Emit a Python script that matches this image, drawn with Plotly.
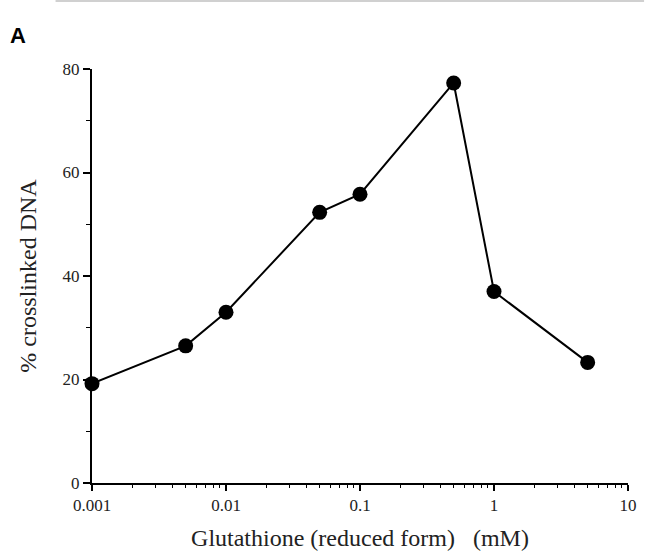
import plotly.graph_objects as go

# Data
conc_mM = [0.001, 0.005, 0.01, 0.05, 0.1, 0.5, 1, 5]
crosslinked_pct = [19.2, 26.5, 33.0, 52.3, 55.8, 77.3, 37.0, 23.3]

x_tickvals = [0.001, 0.01, 0.1, 1, 10]
x_ticktext = ["0.001", "0.01", "0.1", "1", "10"]
x_minor = [m * 10 ** e for e in (-3, -2, -1, 0) for m in range(2, 10)]
y_tickvals = [0, 20, 40, 60, 80]

SERIF = "Liberation Serif, Times New Roman, serif"

fig = go.Figure()
fig.add_trace(go.Scatter(
    x=conc_mM, y=crosslinked_pct, mode="lines+markers",
    line=dict(color="black", width=2),
    marker=dict(color="black", size=15),
    showlegend=False, cliponaxis=False,
))

fig.update_layout(
    width=649, height=559,
    margin=dict(l=92, r=15, t=69, b=75),
    paper_bgcolor="white", plot_bgcolor="white",
    font=dict(family=SERIF, color="#222"),
    xaxis=dict(
        type="log", range=[-3, 1],
        tickvals=x_tickvals, ticktext=x_ticktext,
        ticks="outside", ticklen=6, tickwidth=1.5, tickcolor="black",
        minor=dict(tickvals=x_minor, ticks="outside", ticklen=3, tickwidth=1.2, tickcolor="black"),
        showline=True, linecolor="black", linewidth=2,
        showgrid=False, zeroline=False,
        tickfont=dict(family=SERIF, size=17, color="#222"),
        title=dict(text="Glutathione (reduced form)&nbsp;&nbsp;&nbsp;(mM)",
                   font=dict(family=SERIF, size=24, color="#222"), standoff=15),
    ),
    yaxis=dict(
        range=[0, 80],
        tickvals=y_tickvals,
        ticks="outside", ticklen=7, tickwidth=1.5, tickcolor="black",
        minor=dict(tickvals=[10, 30, 50, 70], ticks="outside", ticklen=4, tickwidth=1.2, tickcolor="black"),
        showline=True, linecolor="black", linewidth=2,
        showgrid=False, zeroline=False,
        tickfont=dict(family=SERIF, size=17, color="#222"),
        title=dict(text="% crosslinked DNA",
                   font=dict(family=SERIF, size=24, color="#222"), standoff=19),
    ),
    annotations=[dict(
        text="<b>A</b>", xref="paper", yref="paper", x=-0.138, y=1.082,
        xanchor="center", yanchor="middle", showarrow=False,
        font=dict(family="Liberation Sans, Arial, sans-serif", size=22, color="black"),
    )],
    shapes=[dict(
        type="line", xref="paper", yref="paper", x0=-0.068, x1=1.03, y0=1.164, y1=1.164,
        line=dict(color="#d0d0d0", width=2),
    )],
)

fig.write_html("out.html")
